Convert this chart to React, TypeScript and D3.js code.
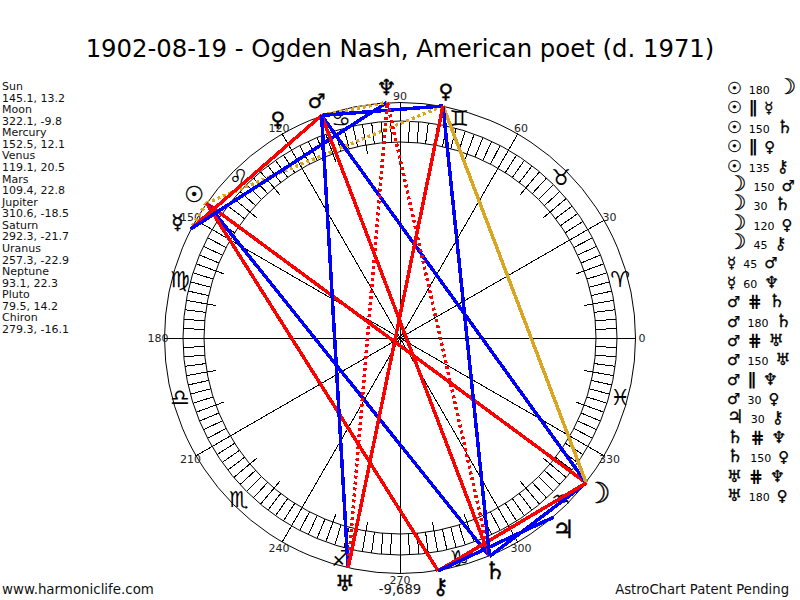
import React from 'react';
import * as d3 from 'd3';

const TITLE = '1902-08-19 - Ogden Nash, American poet (d. 1971)';

const planetNames = ['Sun', 'Moon', 'Mercury', 'Venus', 'Mars', 'Jupiter', 'Saturn', 'Uranus', 'Neptune', 'Pluto', 'Chiron'];
const longitudes = [145.1, 322.1, 152.5, 119.1, 109.4, 310.6, 292.3, 257.3, 93.1, 79.5, 279.3];
const declinations = ['13.2', '-9.8', '12.1', '20.5', '22.8', '-18.5', '-21.7', '-22.9', '22.3', '14.2', '-16.1'];
// the reference's font draws Pluto with a Venus-like glyph
const planetGlyphs = ['☉', '☽', '☿', '♀', '♂', '♃', '♄', '♅', '♆', '♀', '⚷'];

const zodiacGlyphs = ['♈', '♉', '♊', '♋', '♌', '♍', '♎', '♏', '♐', '♑', '♒', '♓'];
const degreeLabels = [0, 30, 60, 90, 120, 150, 180, 210, 240, 270, 300, 330];

const aspectFrom = ['Sun', 'Sun', 'Sun', 'Sun', 'Sun', 'Moon', 'Moon', 'Moon', 'Moon', 'Mercury', 'Mercury', 'Mars', 'Mars', 'Mars', 'Mars', 'Mars', 'Mars', 'Jupiter', 'Saturn', 'Saturn', 'Uranus', 'Uranus'];
const aspectKind = ['180', '||', '150', '||', '135', '150', '30', '120', '45', '45', '60', '#', '180', '#', '150', '||', '30', '30', '#', '150', '#', '180'];
const aspectTo = ['Moon', 'Mercury', 'Saturn', 'Pluto', 'Chiron', 'Mars', 'Saturn', 'Pluto', 'Chiron', 'Mars', 'Neptune', 'Saturn', 'Saturn', 'Uranus', 'Uranus', 'Neptune', 'Pluto', 'Chiron', 'Neptune', 'Pluto', 'Neptune', 'Pluto'];

const FONT = '"DejaVu Sans", Verdana, sans-serif';
const RED = '#ff0000';
const BLUE = '#0000ff';
const GOLD = '#daa520';

const CX = 400;
const CY = 338;
const R_OUTER = 236;
const R_BAND_OUT = 217;
const R_BAND_IN = 196;
const R_DECAN = 187;

// DejaVu draws some of these smaller than the reference's font
const glyphScale: Record<string, number> = { '☽': 1.45, '♃': 1.25, '♄': 1.2, '☉': 1.1, '♅': 1.1, '♆': 1.1, '⚷': 1.1 };

const angle = d3.scaleLinear().domain([0, 360]).range([Math.PI / 2, Math.PI / 2 - 2 * Math.PI]);
const polar = (lon: number, r: number) => d3.pointRadial(angle(lon), r);

const aspectStyle = (kind: string) => {
  if (kind === '||') return { stroke: GOLD, dash: '3 3' };
  if (kind === '#') return { stroke: RED, dash: '3 3' };
  if (kind === '120') return { stroke: GOLD, dash: undefined };
  if (kind === '180' || kind === '135' || kind === '45') return { stroke: RED, dash: undefined };
  return { stroke: BLUE, dash: undefined };
};

const lonOf = (name: string) => longitudes[planetNames.indexOf(name)];
const glyphOf = (name: string) => planetGlyphs[planetNames.indexOf(name)];
const sized = (glyph: string, base: number) => base * (glyphScale[glyph] ?? 1);

const Radial: React.FC<{ lon: number; r0: number; r1: number }> = ({ lon, r0, r1 }) => {
  const [x0, y0] = polar(lon, r0);
  const [x1, y1] = polar(lon, r1);
  return <line x1={x0} y1={y0} x2={x1} y2={y1} stroke="#000" strokeWidth={1} shapeRendering="crispEdges" />;
};

export default function App() {
  const bandTicks = d3.range(0, 360, 2.5);
  const decans = d3.range(0, 360, 10).filter(d => d % 30 !== 0);

  return (
    <svg width={800} height={600} style={{ position: 'fixed', left: 0, top: 0, background: '#fff' }} fontFamily={FONT}>
      <text x={400} y={57} textAnchor="middle" fontSize={24.35} fill="#000">{TITLE}</text>

      <g transform={`translate(${CX},${CY})`}>
        <circle r={R_OUTER - 0.5} fill="none" stroke="#000" />
        <circle r={R_BAND_OUT} fill="none" stroke="#000" />
        <circle r={R_BAND_IN} fill="none" stroke="#000" />

        {bandTicks.map(d => <Radial key={d} lon={d} r0={R_BAND_IN} r1={R_BAND_OUT} />)}
        {decans.map(d => <Radial key={d} lon={d} r0={R_DECAN} r1={R_BAND_OUT} />)}
        {degreeLabels.map(d => <Radial key={d} lon={d} r0={0} r1={R_OUTER} />)}

        {degreeLabels.map(d => {
          const [x, y] = polar(d, R_OUTER + 6);
          return <text key={d} x={x} y={y} dy="0.36em" textAnchor="middle" fontSize={11} fill="#222">{d}</text>;
        })}

        {zodiacGlyphs.map((g, i) => {
          const [x, y] = polar(15 + i * 30, 228);
          return <text key={g} x={x} y={y} dy="0.36em" textAnchor="middle" fontSize={22} fill="#000">{g}</text>;
        })}

        {aspectKind.map((kind, i) => {
          const [x0, y0] = polar(lonOf(aspectFrom[i]), R_OUTER);
          const [x1, y1] = polar(lonOf(aspectTo[i]), R_OUTER);
          const st = aspectStyle(kind);
          return <line key={i} x1={x0} y1={y0} x2={x1} y2={y1} stroke={st.stroke} strokeWidth={3.5} strokeDasharray={st.dash} shapeRendering="crispEdges" />;
        })}

        {planetNames.map((name, i) => {
          const [x, y] = polar(longitudes[i], 251);
          return <text key={name} x={x} y={y} dy="0.36em" textAnchor="middle" fontSize={sized(planetGlyphs[i], 20)} fill="#000" stroke="#000" strokeWidth={0.4}>{planetGlyphs[i]}</text>;
        })}
      </g>

      <g fontSize={11} fill="#111">
        {planetNames.map((name, i) => (
          <g key={name}>
            <text x={2} y={90 + i * 2 * 11.57}>{name}</text>
            <text x={2} y={90 + (i * 2 + 1) * 11.57}>{`${longitudes[i]}, ${declinations[i]}`}</text>
          </g>
        ))}
      </g>

      <g fill="#000">
        {aspectKind.map((kind, i) => {
          const isParallel = kind === '||' || kind === '#';
          const symbol = kind === '||' ? '∥' : kind === '#' ? '⋕' : kind;
          const from = glyphOf(aspectFrom[i]);
          const to = glyphOf(aspectTo[i]);
          return (
            <text key={i} x={727} y={94 + i * 19.38} fontSize={15}>
              <tspan fontSize={sized(from, 15)} stroke="#000" strokeWidth={0.3}>{from}</tspan>
              <tspan dx={7} fontSize={isParallel ? 17 : 11} fontWeight={isParallel ? 'bold' : 'normal'}>{symbol}</tspan>
              <tspan dx={7} fontSize={sized(to, 15)} stroke="#000" strokeWidth={0.3}>{to}</tspan>
            </text>
          );
        })}
      </g>

      <text x={2} y={594} fontSize={13.4} fill="#111">www.harmoniclife.com</text>
      <text x={400} y={594} fontSize={13.2} textAnchor="middle" fill="#111">-9,689</text>
      <text x={789} y={594} fontSize={13.2} textAnchor="end" fill="#111">AstroChart Patent Pending</text>
    </svg>
  );
}
